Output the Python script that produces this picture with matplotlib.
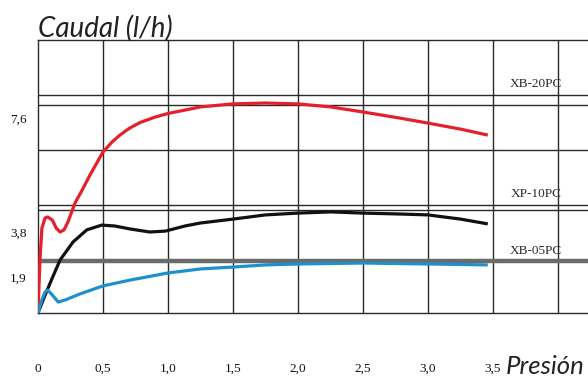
import matplotlib
matplotlib.use("Agg")
import matplotlib.pyplot as plt
import numpy as np

# pressure (bar) and flow (l/h)
red_x = [0, 0.015, 0.03, 0.055, 0.075, 0.11, 0.14, 0.17, 0.2, 0.23, 0.285, 0.34, 0.4, 0.5,
         0.57, 0.63, 0.7, 0.785, 0.9, 1.0, 1.25, 1.5, 1.75, 2.0, 2.25, 2.5, 2.78, 3.0, 3.25, 3.46]
red_y = [0, 2.62, 3.93, 4.27, 4.30, 4.20, 3.93, 3.80, 3.87, 4.13, 4.77, 5.2, 5.7, 6.47,
         6.8, 7.03, 7.25, 7.45, 7.63, 7.75, 7.97, 8.07, 8.1, 8.07, 7.97, 7.8, 7.6, 7.43, 7.23, 7.03]

black_x = [0, 0.055, 0.11, 0.17, 0.27, 0.375, 0.49, 0.59, 0.71, 0.86, 0.98, 1.13, 1.25,
           1.5, 1.75, 2.0, 2.25, 2.5, 2.78, 3.0, 3.25, 3.46]
black_y = [0, 0.95, 1.85, 2.62, 3.38, 3.87, 4.03, 4.0, 3.9, 3.8, 3.83, 4.0, 4.1,
           4.23, 4.37, 4.43, 4.47, 4.43, 4.4, 4.37, 4.23, 4.07]

blue_x = [0, 0.03, 0.055, 0.075, 0.11, 0.155, 0.21, 0.32, 0.5, 0.71, 1.0, 1.25, 1.5,
          1.75, 2.0, 2.5, 3.0, 3.46]
blue_y = [0, 0.69, 1.11, 1.21, 0.95, 0.58, 0.69, 1.0, 1.43, 1.74, 2.07, 2.24, 2.32,
          2.41, 2.45, 2.49, 2.45, 2.41]

x_ticks = [0, 0.5, 1.0, 1.5, 2.0, 2.5, 3.0, 3.5]
x_labels = ["0", "0,5", "1,0", "1,5", "2,0", "2,5", "3,0", "3,5"]
y_ticks = [1.9, 3.8, 7.6]
y_labels = ["1,9", "3,8", "7,6"]

x_grid = [0.5, 1.0, 1.5, 2.0, 2.5, 3.0, 3.5, 4.0]
y_grid = [4.53, 4.7, 6.53, 8.03, 8.37]
y_band = 2.58
models = ["XB-20PC", "XP-10PC", "XB-05PC"]
model_y = [8.73, 5.07, 2.98]

# the printed flow axis is not linear, map it piecewise
knot_v = np.array([-100, 0, 1.9, 3.8, 7.6, 100])
knot_p = np.array([-1894.7, 0, 36, 81, 195, 2967])

def fwd(v):
    return np.interp(v, knot_v, knot_p)

def inv(p):
    return np.interp(p, knot_p, knot_v)

fig = plt.figure(figsize=(5.88, 3.83), dpi=100)
ax = fig.add_axes([38 / 588, 70 / 383, 550 / 588, 273 / 383])
ax.set_yscale("function", functions=(fwd, inv))
ax.set_xlim(0, 550 / 130)
ax.set_ylim(0, 10.2)

gc = "#2a2a2a"
ax.vlines(x_grid, 0, 10.2, color=gc, lw=1.0, zorder=1)
ax.hlines(y_grid, 0, 550 / 130, color=gc, lw=1.0, zorder=1)
ax.hlines(y_band, 0, 550 / 130, color="#6b6b6b", lw=3.2, zorder=1)

ax.plot(red_x, red_y, color="#e3202b", lw=2.3, solid_capstyle="butt", zorder=3)
ax.plot(black_x, black_y, color="#111111", lw=2.3, solid_capstyle="butt", zorder=3)
ax.plot(blue_x, blue_y, color="#1f8fcf", lw=2.3, solid_capstyle="butt", zorder=3)

for name, yy in zip(models, model_y):
    ax.text(3.83, yy, name, ha="center", va="center", fontsize=9.5,
            family="Liberation Serif", color="#2a2a2a")

for s in ["left", "top", "bottom"]:
    ax.spines[s].set_color(gc)
    ax.spines[s].set_linewidth(1.0)
ax.spines["right"].set_visible(False)

ax.set_xticks(x_ticks)
ax.set_xticklabels(x_labels, family="Liberation Serif", fontsize=9.5, color="#111111")
ax.set_yticks(y_ticks)
ax.set_yticklabels(y_labels, family="Liberation Serif", fontsize=9.5, color="#111111")
ax.yaxis.set_minor_locator(matplotlib.ticker.NullLocator())
ax.tick_params(axis="x", length=0, pad=36)
ax.tick_params(axis="y", length=0, pad=8)

fig.text(38 / 588, 1 - 28 / 383, "Caudal (l/h)", ha="left", va="center",
         fontsize=20, style="italic", family="Lato", color="#222222")
fig.text(506 / 588, 1 - 366 / 383, "Presión", ha="left", va="center",
         fontsize=18.5, style="italic", family="Lato", color="#222222")

fig.savefig("out.png", dpi=100)
